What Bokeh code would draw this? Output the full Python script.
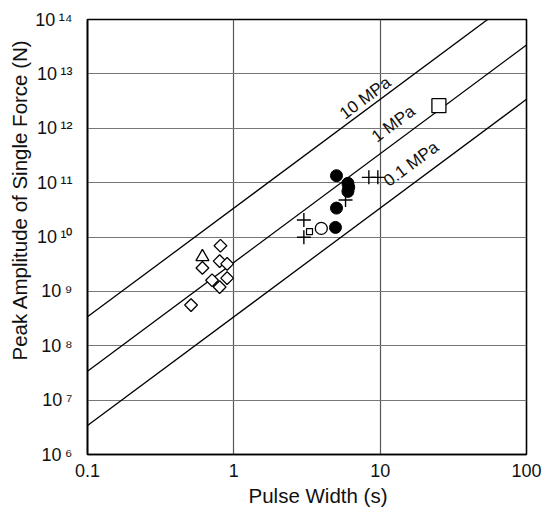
import math
from bokeh.plotting import figure
from bokeh.models import Range1d, FixedTicker, CustomJSTickFormatter, Title
from bokeh.core.properties import value
from bokeh.embed import file_html
from bokeh.resources import INLINE

# ---- data -------------------------------------------------------------
x_ticks = [0.1, 1.0, 10.0, 100.0]
x_tick_labels = ["0.1", "1", "10", "100"]
y_ticks = [1e6, 1e7, 1e8, 1e9, 1e10, 1e11, 1e12, 1e13, 1e14]
y_tick_labels = ["10\u2009\u2076", "10\u2009\u2077", "10\u2009\u2078", "10\u2009\u2079",
                 "10\u2009\u00b9\u2070", "10\u2009\u00b9\u00b9", "10\u2009\u00b9\u00b2",
                 "10\u2009\u00b9\u00b3", "10\u2009\u00b9\u2074"]

# constant-stress lines (endpoints)
line_x = [0.1, 100.0]
line_10mpa = [3.4e8, 3.4e14]
line_1mpa = [3.4e7, 3.4e13]
line_01mpa = [3.4e6, 3.4e12]

stress_labels = ["10 MPa", "1 MPa", "0.1 MPa"]
stress_label_x = [7.9, 12.3, 16.3]
stress_label_y = [3.6e12, 1.2e12, 2.2e11]

diamond_x = [0.81, 0.80, 0.61, 0.90, 0.71, 0.90, 0.80, 0.51]
diamond_y = [6.9e9, 3.6e9, 2.7e9, 3.2e9, 1.6e9, 1.75e9, 1.2e9, 5.6e8]
triangle_x = [0.61]
triangle_y = [4.3e9]
filled_x = [5.03, 6.02, 6.1, 6.02, 5.03, 4.95]
filled_y = [1.34e11, 9.7e10, 8.2e10, 6.9e10, 3.4e10, 1.5e10]
open_circle_x = [3.96]
open_circle_y = [1.44e10]
plus_x = [8.37, 9.64, 5.80, 3.01, 3.01]
plus_y = [1.25e11, 1.25e11, 4.8e10, 2.05e10, 9.9e9]
small_square_x = [3.29]
small_square_y = [1.26e10]
big_square_x = [25.2]
big_square_y = [2.6e12]

x_title = "Pulse Width (s)"
y_title = "Peak Amplitude of Single Force (N)"

# ---- figure -----------------------------------------------------------
FONT = "Liberation Sans"
W, H = 546, 512
ML, MR, MT, MB = 87, 20, 19, 58

p = figure(width=W, height=H, x_axis_type="log", y_axis_type="log",
           x_range=Range1d(0.1, 100), y_range=Range1d(1e6, 1e14),
           output_backend="svg", toolbar_location=None,
           min_border_left=ML, min_border_right=MR,
           min_border_top=MT, min_border_bottom=MB)
p.background_fill_color = "white"
p.border_fill_color = "white"
p.outline_line_color = "black"
p.outline_line_width = 1.6

fmt_code = """
const i = tick_vals.findIndex(t => Math.abs(Math.log10(t) - Math.log10(tick)) < 1e-6);
return i >= 0 ? tick_text[i] : '';
"""
p.xaxis.ticker = FixedTicker(ticks=x_ticks, minor_ticks=[])
p.yaxis.ticker = FixedTicker(ticks=y_ticks, minor_ticks=[])
p.xaxis.formatter = CustomJSTickFormatter(args=dict(tick_vals=x_ticks, tick_text=x_tick_labels), code=fmt_code)
p.yaxis.formatter = CustomJSTickFormatter(args=dict(tick_vals=y_ticks, tick_text=y_tick_labels), code=fmt_code)
p.xgrid.ticker = FixedTicker(ticks=x_ticks, minor_ticks=[])
p.ygrid.ticker = FixedTicker(ticks=y_ticks, minor_ticks=[])

for ax in (p.xaxis, p.yaxis):
    ax.major_tick_line_color = None
    ax.minor_tick_line_color = None
    ax.axis_line_color = "black"
    ax.axis_line_width = 1.6
    ax.major_label_text_font = FONT
    ax.major_label_text_font_size = "18px"
    ax.major_label_text_color = "#111111"
p.xaxis.major_label_standoff = 3
p.yaxis.major_label_standoff = 9

p.xgrid.grid_line_color = "#555555"
p.ygrid.grid_line_color = "#777777"
p.xgrid.grid_line_width = 1.2
p.ygrid.grid_line_width = 1.2

# stress lines
for ys in (line_10mpa, line_1mpa, line_01mpa):
    p.line(line_x, ys, line_color="black", line_width=1.3)

# label angle along slope-2 lines in screen space
fw = W - ML - MR
fh = H - MT - MB
ang = math.atan(2 * (fh / 8.0) / (fw / 3.0))
p.text(x=stress_label_x, y=stress_label_y, text=stress_labels, angle=ang,
       text_align="center", text_baseline="middle",
       text_font=value(FONT), text_font_size="17px", text_color="#111111")

# markers
p.scatter(diamond_x, diamond_y, marker="square", angle=math.pi / 4, size=9,
          fill_color="white", line_color="black", line_width=1.3)
p.scatter(triangle_x, triangle_y, marker="triangle", size=13,
          fill_color="white", line_color="black", line_width=1.3)
p.scatter(plus_x, plus_y, marker="cross", size=14, line_color="black", line_width=1.4)
p.scatter(small_square_x, small_square_y, marker="square", size=6,
          fill_color="white", line_color="black", line_width=1.2)
p.scatter(open_circle_x, open_circle_y, marker="circle", size=12,
          fill_color="white", line_color="black", line_width=1.3)
p.scatter(filled_x, filled_y, marker="circle", size=12,
          fill_color="black", line_color="black")
p.scatter(big_square_x, big_square_y, marker="square", size=14,
          fill_color="white", line_color="black", line_width=1.3)

# axis titles
p.add_layout(Title(text=x_title, align="left", offset=161, standoff=4,
                   text_font=FONT, text_font_size="20.5px", text_font_style="normal",
                   text_color="#111111"), "below")
p.add_layout(Title(text=y_title, align="left", offset=94, standoff=4,
                   text_font=FONT, text_font_size="20.5px", text_font_style="normal",
                   text_color="#111111"), "left")

open("out.html", "w").write(file_html(p, INLINE))
